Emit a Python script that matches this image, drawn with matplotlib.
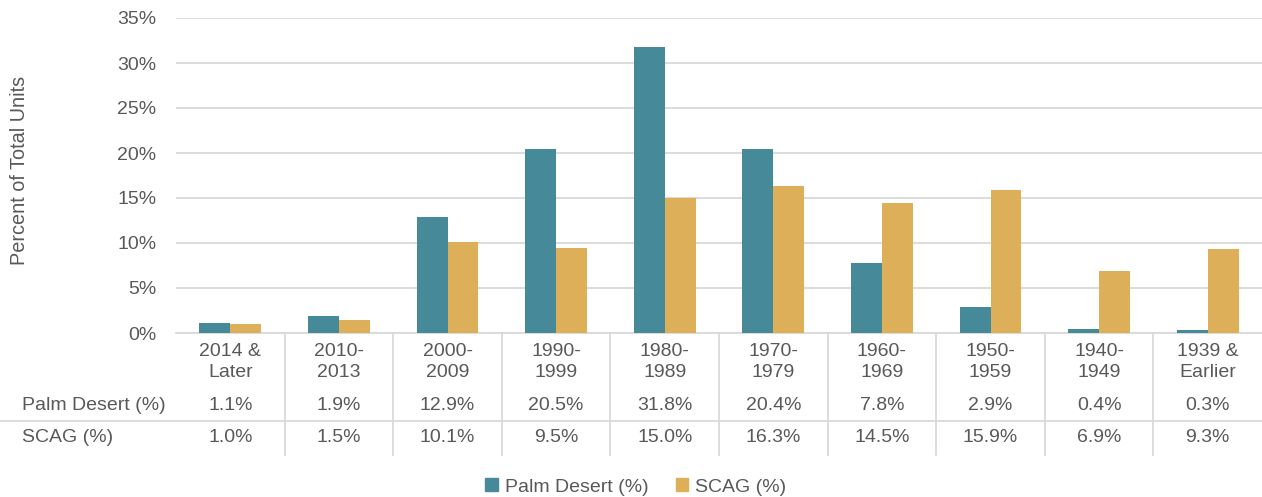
import matplotlib
matplotlib.use("Agg")
import matplotlib.pyplot as plt
from matplotlib.transforms import blended_transform_factory
from matplotlib.patches import Patch
import numpy as np

categories = ["2014 &\nLater", "2010-\n2013", "2000-\n2009", "1990-\n1999", "1980-\n1989",
              "1970-\n1979", "1960-\n1969", "1950-\n1959", "1940-\n1949", "1939 &\nEarlier"]
palm_desert = [1.1, 1.9, 12.9, 20.5, 31.8, 20.4, 7.8, 2.9, 0.4, 0.3]
scag = [1.0, 1.5, 10.1, 9.5, 15.0, 16.3, 14.5, 15.9, 6.9, 9.3]
series_names = ["Palm Desert (%)", "SCAG (%)"]
yticks = [0, 5, 10, 15, 20, 25, 30, 35]

TEAL = "#468A99"
GOLD = "#DDAF58"
TXT = "#595959"
GRID = "#D9D9D9"

plt.rcParams["font.family"] = ["Liberation Sans", "DejaVu Sans"]

W, H = 1262, 497
fig = plt.figure(figsize=(W / 100, H / 100), dpi=100)
ax = fig.add_axes([176 / W, 1 - 333 / H, (W - 176) / W, (333 - 18) / H])

x = np.arange(len(categories))
bw = 0.285
ax.bar(x - bw / 2, palm_desert, bw, color=TEAL, zorder=3)
ax.bar(x + bw / 2, scag, bw, color=GOLD, zorder=3)

ax.set_xlim(-0.5, len(categories) - 0.5)
ax.set_ylim(0, 35)
ax.set_yticks(yticks)
ax.set_yticklabels([f"{t}%" for t in yticks], fontsize=14, color=TXT)
ax.tick_params(axis="y", length=0, pad=14)
ax.set_xticks([])
ax.grid(axis="y", color=GRID, linewidth=1.3, zorder=0)
for s in ["top", "right", "left"]:
    ax.spines[s].set_visible(False)
ax.spines["bottom"].set_color(GRID)
ax.spines["bottom"].set_linewidth(1.3)

fig.text(20 / W, 1 - 170 / H, "Percent of Total Units", rotation=90, ha="center", va="center",
         fontsize=14.3, color=TXT)

# data table
tr = blended_transform_factory(ax.transData, fig.transFigure)
def fy(py):
    return 1 - py / H

for i, c in enumerate(categories):
    fig.text(i, fy(362), c, transform=tr, ha="center", va="center", fontsize=14,
             color=TXT, linespacing=1.3)
    fig.text(i, fy(405), f"{palm_desert[i]:.1f}%", transform=tr, ha="center", va="center",
             fontsize=14, color=TXT)
    fig.text(i, fy(437), f"{scag[i]:.1f}%", transform=tr, ha="center", va="center",
             fontsize=14, color=TXT)

fig.text(22 / W, fy(405), series_names[0], ha="left", va="center", fontsize=14, color=TXT)
fig.text(22 / W, fy(437), series_names[1], ha="left", va="center", fontsize=14, color=TXT)

# vertical dividers
for i in range(1, len(categories)):
    fig.add_artist(plt.Line2D([i - 0.5, i - 0.5], [fy(333), fy(455)], transform=tr,
                              color=GRID, linewidth=1.3))
# horizontal divider between rows
fig.add_artist(plt.Line2D([0, 1], [fy(421), fy(421)], transform=fig.transFigure,
                          color=GRID, linewidth=1.3))

handles = [Patch(color=TEAL, label=series_names[0]), Patch(color=GOLD, label=series_names[1])]
fig.legend(handles=handles, loc="center", bbox_to_anchor=(636 / W, fy(487)), ncol=2, frameon=False,
           fontsize=14, labelcolor=TXT, handlelength=0.62, handleheight=0.62,
           handletextpad=0.36, columnspacing=1.45, borderpad=0, borderaxespad=0)

fig.savefig("out.png", dpi=100)
